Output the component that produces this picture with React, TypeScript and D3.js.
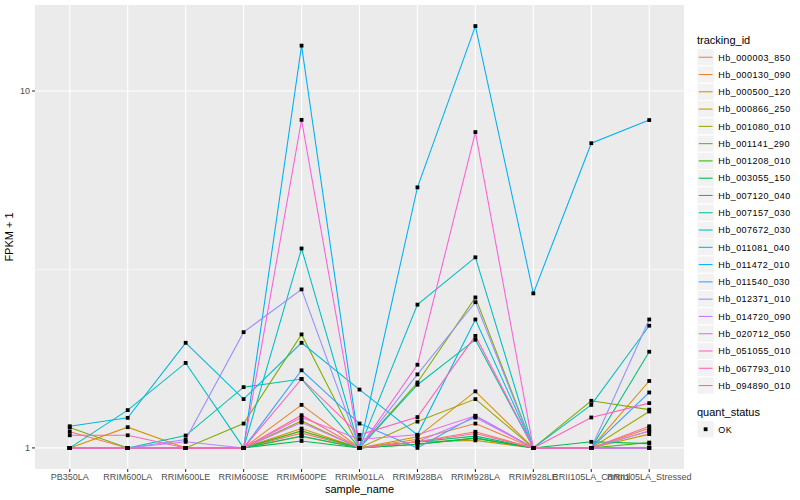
import { useRef, useEffect } from "react";
import * as d3 from "d3";

const samples = [
  "PB350LA",
  "RRIM600LA",
  "RRIM600LE",
  "RRIM600SE",
  "RRIM600PE",
  "RRIM901LA",
  "RRIM928BA",
  "RRIM928LA",
  "RRIM928LE",
  "RRII105LA_Control",
  "RRII105LA_Stressed",
];

const trackingIds = [
  "Hb_000003_850",
  "Hb_000130_090",
  "Hb_000500_120",
  "Hb_000866_250",
  "Hb_001080_010",
  "Hb_001141_290",
  "Hb_001208_010",
  "Hb_003055_150",
  "Hb_007120_040",
  "Hb_007157_030",
  "Hb_007672_030",
  "Hb_011081_040",
  "Hb_011472_010",
  "Hb_011540_030",
  "Hb_012371_010",
  "Hb_014720_090",
  "Hb_020712_050",
  "Hb_051055_010",
  "Hb_067793_010",
  "Hb_094890_010",
];

// ggplot default hue palette, 20 levels
const palette = [
  "#F8766D", "#EA8331", "#D89000", "#C09B00", "#A3A500",
  "#7CAE00", "#39B600", "#00BB4E", "#00BF7D", "#00C1A3",
  "#00BFC4", "#00BAE0", "#00B0F6", "#35A2FF", "#9590FF",
  "#C77CFF", "#E76BF3", "#FA62DB", "#FF62BC", "#FF6C91",
];

// FPKM + 1, one row per tracking_id, one column per sample
const fpkmPlusOne = [
  [1.11, 1.0, 1.0, 1.0, 1.1, 1.0, 1.04, 1.11, 1.0, 1.0, 1.116],
  [1.0, 1.0, 1.0, 1.0, 1.32, 1.0, 1.058, 1.17, 1.0, 1.0, 1.136],
  [1.0, 1.143, 1.0, 1.0, 1.133, 1.0, 1.074, 1.44, 1.0, 1.0, 1.54],
  [1.0, 1.0, 1.0, 1.0, 1.076, 1.0, 1.04, 1.05, 1.0, 1.0, 1.093],
  [1.0, 1.0, 1.0, 1.0, 1.19, 1.0, 1.185, 1.37, 1.0, 1.0, 1.265],
  [1.14, 1.0, 1.0, 1.17, 2.08, 1.0, 1.525, 2.64, 1.0, 1.355, 1.28],
  [1.0, 1.0, 1.0, 1.0, 1.116, 1.0, 1.024, 1.065, 1.0, 1.0, 1.035],
  [1.0, 1.0, 1.0, 1.0, 1.046, 1.0, 1.024, 1.065, 1.0, 1.04, 1.028],
  [1.0, 1.0, 1.0, 1.0, 1.08, 1.0, 1.04, 1.079, 1.0, 1.0, 1.86],
  [1.0, 1.0, 1.083, 1.48, 1.56, 1.0, 1.503, 2.01, 1.0, 1.0, 1.0],
  [1.0, 1.276, 1.73, 1.0, 3.62, 1.0, 2.52, 3.42, 1.0, 1.32, 2.2],
  [1.15, 1.214, 1.97, 1.37, 1.97, 1.457, 1.088, 2.29, 1.0, 1.0, 1.0],
  [1.0, 1.0, 1.0, 1.0, 13.4, 1.0, 5.37, 15.2, 2.71, 7.14, 8.29],
  [1.0, 1.0, 1.0, 1.0, 1.65, 1.17, 1.0, 1.23, 1.0, 1.0, 1.43],
  [1.0, 1.0, 1.055, 2.11, 2.78, 1.0, 1.607, 2.56, 1.0, 1.0, 2.29],
  [1.0, 1.0, 1.04, 1.0, 1.178, 1.0, 1.04, 1.216, 1.0, 1.0, 1.116],
  [1.0, 1.0, 1.0, 1.0, 1.216, 1.058, 1.088, 1.23, 1.0, 1.0, 1.0],
  [1.0, 1.0, 1.0, 1.0, 8.3, 1.0, 1.71, 7.67, 1.0, 1.0, 1.0],
  [1.085, 1.085, 1.0, 1.0, 1.56, 1.088, 1.22, 2.06, 1.0, 1.217, 1.335],
  [1.0, 1.0, 1.0, 1.0, 1.235, 1.0, 1.04, 1.097, 1.0, 1.0, 1.15],
];

const yBreaks = [1, 10];
const yMinorBreaks = [Math.sqrt(10), Math.sqrt(1000)];

const FONT = "'Liberation Sans', Arial, Helvetica, sans-serif";

export default function App() {
  const svgRef = useRef<SVGSVGElement>(null);

  useEffect(() => {
    if (!svgRef.current) return;
    const svg = d3.select(svgRef.current);
    svg.selectAll("*").remove();

    const width = 800;
    const height = 500;
    const panel = { left: 35, right: 684, top: 5, bottom: 469 };

    const x = d3
      .scalePoint<string>()
      .domain(samples)
      .range([panel.left, panel.right])
      .padding(0.6);

    // log10 scale with ggplot's 5% expansion
    const all = fpkmPlusOne.flat();
    const lo = Math.log10(d3.min(all) || 1);
    const hi = Math.log10(d3.max(all) || 10);
    const pad = (hi - lo) * 0.05;
    const y = d3
      .scaleLog()
      .domain([10 ** (lo - pad), 10 ** (hi + pad)])
      .range([panel.bottom, panel.top]);

    svg
      .append("rect")
      .attr("width", width)
      .attr("height", height)
      .attr("fill", "#ffffff");

    // Panel
    svg
      .append("rect")
      .attr("x", panel.left)
      .attr("y", panel.top)
      .attr("width", panel.right - panel.left)
      .attr("height", panel.bottom - panel.top)
      .attr("fill", "#EBEBEB");

    const grid = svg.append("g");
    grid
      .selectAll(".minor")
      .data(yMinorBreaks.filter((d) => y(d) > panel.top))
      .join("line")
      .attr("x1", panel.left)
      .attr("x2", panel.right)
      .attr("y1", (d) => y(d))
      .attr("y2", (d) => y(d))
      .attr("stroke", "#ffffff")
      .attr("stroke-width", 0.55);
    grid
      .selectAll(".major-y")
      .data(yBreaks)
      .join("line")
      .attr("x1", panel.left)
      .attr("x2", panel.right)
      .attr("y1", (d) => y(d))
      .attr("y2", (d) => y(d))
      .attr("stroke", "#ffffff")
      .attr("stroke-width", 1.1);
    grid
      .selectAll(".major-x")
      .data(samples)
      .join("line")
      .attr("x1", (d) => x(d)!)
      .attr("x2", (d) => x(d)!)
      .attr("y1", panel.top)
      .attr("y2", panel.bottom)
      .attr("stroke", "#ffffff")
      .attr("stroke-width", 1.1);

    // Lines
    const line = d3
      .line<number>()
      .x((_, i) => x(samples[i])!)
      .y((d) => y(d));

    svg
      .append("g")
      .selectAll("path")
      .data(fpkmPlusOne)
      .join("path")
      .attr("d", (d) => line(d))
      .attr("fill", "none")
      .attr("stroke", (_, i) => palette[i])
      .attr("stroke-width", 1.07);

    // Points
    const pts = fpkmPlusOne.flatMap((row) =>
      row.map((v, i) => ({ s: samples[i], v }))
    );
    svg
      .append("g")
      .selectAll("rect")
      .data(pts)
      .join("rect")
      .attr("x", (d) => x(d.s)! - 1.9)
      .attr("y", (d) => y(d.v) - 1.9)
      .attr("width", 3.8)
      .attr("height", 3.8)
      .attr("fill", "#000000");

    // Axes
    const xAxis = svg.append("g");
    xAxis
      .selectAll("line")
      .data(samples)
      .join("line")
      .attr("x1", (d) => x(d)!)
      .attr("x2", (d) => x(d)!)
      .attr("y1", panel.bottom)
      .attr("y2", panel.bottom + 3)
      .attr("stroke", "#333333")
      .attr("stroke-width", 1.07);
    xAxis
      .selectAll("text")
      .data(samples)
      .join("text")
      .attr("x", (d) => x(d)!)
      .attr("y", panel.bottom + 11)
      .attr("text-anchor", "middle")
      .attr("fill", "#4D4D4D")
      .attr("font-family", FONT)
      .attr("font-size", "9px")
      .text((d) => d);

    const yAxis = svg.append("g");
    yAxis
      .selectAll("line")
      .data(yBreaks)
      .join("line")
      .attr("x1", panel.left - 3)
      .attr("x2", panel.left)
      .attr("y1", (d) => y(d))
      .attr("y2", (d) => y(d))
      .attr("stroke", "#333333")
      .attr("stroke-width", 1.07);
    yAxis
      .selectAll("text")
      .data(yBreaks)
      .join("text")
      .attr("x", panel.left - 5)
      .attr("y", (d) => y(d) + 3.2)
      .attr("text-anchor", "end")
      .attr("fill", "#4D4D4D")
      .attr("font-family", FONT)
      .attr("font-size", "9px")
      .text((d) => d3.format("d")(d));

    svg
      .append("text")
      .attr("x", (panel.left + panel.right) / 2)
      .attr("y", 493)
      .attr("text-anchor", "middle")
      .attr("fill", "#000000")
      .attr("font-family", FONT)
      .attr("font-size", "11px")
      .text("sample_name");

    svg
      .append("text")
      .attr("transform", `translate(13,${(panel.top + panel.bottom) / 2}) rotate(-90)`)
      .attr("text-anchor", "middle")
      .attr("fill", "#000000")
      .attr("font-family", FONT)
      .attr("font-size", "11px")
      .text("FPKM + 1");

    // Legend: tracking_id
    const lx = 697;
    const keySize = 17.28;
    const legend = svg.append("g");
    legend
      .append("text")
      .attr("x", lx)
      .attr("y", 44)
      .attr("fill", "#000000")
      .attr("font-family", FONT)
      .attr("font-size", "11px")
      .text("tracking_id");

    const keys = legend
      .selectAll("g")
      .data(trackingIds)
      .join("g")
      .attr("transform", (_, i) => `translate(${lx},${48.6 + i * keySize})`);
    keys
      .append("rect")
      .attr("width", keySize)
      .attr("height", keySize)
      .attr("fill", "#F2F2F2")
      .attr("stroke", "#ffffff")
      .attr("stroke-width", 1);
    keys
      .append("line")
      .attr("x1", 1.7)
      .attr("x2", keySize - 1.7)
      .attr("y1", keySize / 2)
      .attr("y2", keySize / 2)
      .attr("stroke", (_, i) => palette[i])
      .attr("stroke-width", 1.07);
    keys
      .append("text")
      .attr("x", keySize + 4)
      .attr("y", keySize / 2 + 3.3)
      .attr("fill", "#000000")
      .attr("font-family", FONT)
      .attr("font-size", "9px")
      .attr("letter-spacing", "0.45px")
      .text((d) => d);

    // Legend: quant_status
    legend
      .append("text")
      .attr("x", lx)
      .attr("y", 416)
      .attr("fill", "#000000")
      .attr("font-family", FONT)
      .attr("font-size", "11px")
      .text("quant_status");
    const ok = legend.append("g").attr("transform", `translate(${lx},420.6)`);
    ok.append("rect")
      .attr("width", keySize)
      .attr("height", keySize)
      .attr("fill", "#F2F2F2")
      .attr("stroke", "#ffffff");
    ok.append("rect")
      .attr("x", keySize / 2 - 1.9)
      .attr("y", keySize / 2 - 1.9)
      .attr("width", 3.8)
      .attr("height", 3.8)
      .attr("fill", "#000000");
    ok.append("text")
      .attr("x", keySize + 4)
      .attr("y", keySize / 2 + 3.3)
      .attr("fill", "#000000")
      .attr("font-family", FONT)
      .attr("font-size", "9px")
      .attr("letter-spacing", "0.45px")
      .text("OK");
  }, []);

  return (
    <svg
      ref={svgRef}
      width={800}
      height={500}
      viewBox="0 0 800 500"
      style={{ display: "block", position: "absolute", left: 0, top: 0 }}
    />
  );
}
